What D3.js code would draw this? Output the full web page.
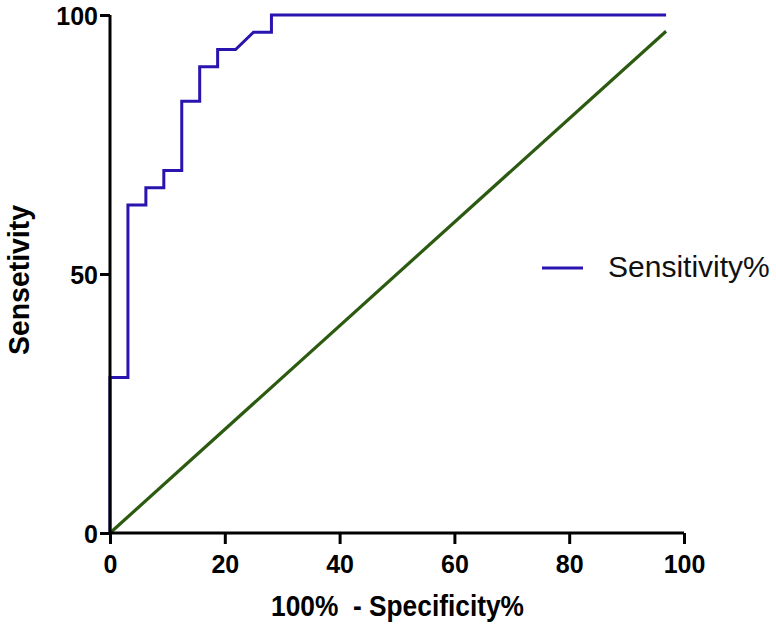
<!DOCTYPE html>
<html><head><meta charset="utf-8">
<script src="https://cdn.jsdelivr.net/npm/d3@7"></script>
<style>body{margin:0;background:#fff}svg{display:block}</style>
</head><body>
<svg id="c" width="776" height="629"></svg>
<script>
// ROC curve points (100% - Specificity%, Sensitivity%)
const rocX = [0, 0, 3.125, 3.125, 6.25, 6.25, 9.375, 9.375, 12.5, 12.5, 15.625, 15.625, 18.75, 18.75, 21.875, 25, 28.125, 28.125, 96.875];
const rocY = [0, 30, 30, 63.33, 63.33, 66.67, 66.67, 70, 70, 83.33, 83.33, 90, 90, 93.33, 93.33, 96.67, 96.67, 100, 100];
// Reference (chance) line
const refX = [0, 96.875];
const refY = [0, 96.875];
const xTicks = [0, 20, 40, 60, 80, 100];
const yTicks = [0, 50, 100];
const xTitle = "100%  - Specificity%";
const yTitle = "Sensetivity";
const legendLabel = "Sensitivity%";

const svg = d3.select("#c");
const x = d3.scaleLinear().domain([0, 100]).range([110, 684]);
const y = d3.scaleLinear().domain([0, 100]).range([533, 15]);
const font = "'Liberation Sans', Arial, sans-serif";

const line = d3.line().x(d => x(d[0])).y(d => y(d[1]));

svg.append("path").datum(refX.map((v, i) => [v, refY[i]]))
  .attr("d", line).attr("fill", "none").attr("stroke", "#2b5a10").attr("stroke-width", 3.2);

svg.append("path").datum(rocX.map((v, i) => [v, rocY[i]]))
  .attr("d", line).attr("fill", "none").attr("stroke", "#2a14b0").attr("stroke-width", 3)
  .attr("stroke-linejoin", "miter");

const xa = svg.append("g").attr("transform", `translate(0,${y(0)})`)
  .call(d3.axisBottom(x).tickValues(xTicks).tickSize(11).tickPadding(11).tickFormat(d3.format("d")));
const ya = svg.append("g").attr("transform", `translate(${x(0)},0)`)
  .call(d3.axisLeft(y).tickValues(yTicks).tickSize(10).tickPadding(2).tickFormat(d3.format("d")));
[xa, ya].forEach(a => {
  a.select(".domain").attr("stroke", "#000").attr("stroke-width", 3);
  a.selectAll(".tick line").attr("stroke", "#000").attr("stroke-width", 3);
  a.selectAll(".tick text").attr("fill", "#000").style("font-family", font)
    .style("font-size", "25px").style("font-weight", "bold");
});
xa.select(".domain").attr("d", `M${x(0)},0H${x(100)}`);
ya.select(".domain").attr("d", `M0,${y(0)}V${y(100)}`);
ya.selectAll(".tick text").attr("dy", "0.36em");

svg.append("text").attr("x", 271).attr("y", 616)
  .attr("xml:space", "preserve").attr("textLength", 253).attr("lengthAdjust", "spacingAndGlyphs")
  .style("font-family", font).style("font-size", "29px").style("font-weight", "bold").text(xTitle);
svg.append("text").attr("transform", `translate(29,355) rotate(-90)`)
  .attr("textLength", 150).attr("lengthAdjust", "spacingAndGlyphs")
  .style("font-family", font).style("font-size", "29px").style("font-weight", "bold").text(yTitle);

// legend
svg.append("line").attr("x1", 542).attr("x2", 583).attr("y1", 268).attr("y2", 268)
  .attr("stroke", "#2a14b0").attr("stroke-width", 3);
svg.append("text").attr("x", 608).attr("y", 277)
  .style("font-family", font).style("font-size", "30px").attr("fill", "#111").text(legendLabel);
</script>
</body></html>
